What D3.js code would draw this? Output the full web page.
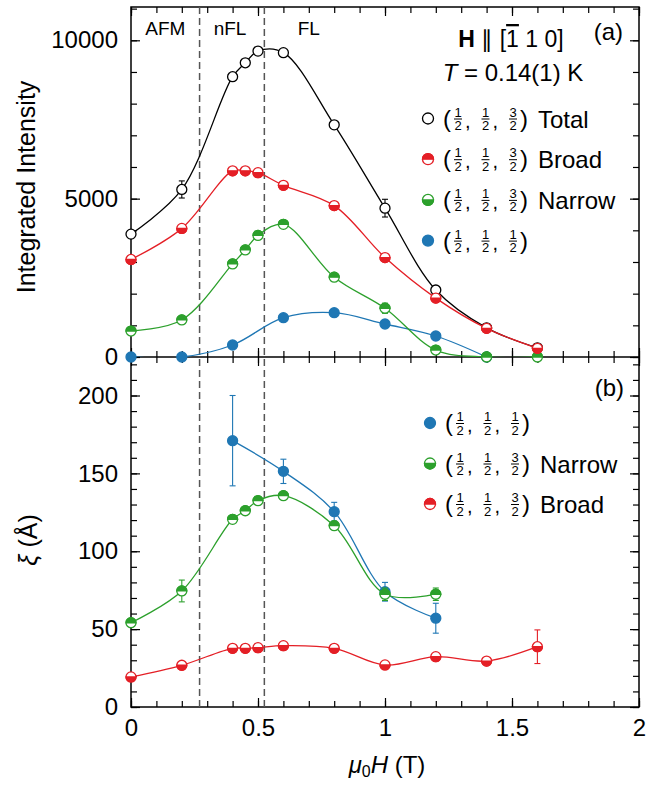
<!DOCTYPE html>
<html lang="en">
<head>
<meta charset="UTF-8">
<title>Integrated intensity and correlation length vs field</title>
<script src="https://cdnjs.cloudflare.com/ajax/libs/d3/7.8.5/d3.min.js"></script>
<style>
  body { margin: 0; background: #fff; }
  svg { display: block; }
  text { font-family: "Liberation Sans", Arial, Helvetica, sans-serif; fill: #000; }
</style>
</head>
<body>
<script>
  // field values (T)
  const fieldAll = [0, 0.2, 0.4, 0.45, 0.5, 0.6, 0.8, 1.0, 1.2, 1.4, 1.6];
  const fieldHalfTop = [0, 0.2, 0.4, 0.6, 0.8, 1.0, 1.2, 1.4];
  const fieldNarrowXi = [0, 0.2, 0.4, 0.45, 0.5, 0.6, 0.8, 1.0, 1.2];
  const fieldHalfXi = [0.4, 0.6, 0.8, 1.0, 1.2];

  // (a) integrated intensity
  const totalI = [3880, 5290, 8850, 9290, 9660, 9610, 7330, 4700, 2115, 920, 290];
  const totalErr = [60, 270, 80, 80, 80, 80, 90, 280, 90, 50, 40];
  const broadI = [3080, 4060, 5880, 5880, 5820, 5420, 4780, 3140, 1860, 905, 275];
  const broadErr = [60, 70, 70, 70, 70, 70, 80, 90, 70, 50, 40];
  const narrowI = [820, 1170, 2940, 3380, 3840, 4190, 2520, 1540, 220, 0, 0];
  const narrowErr = [50, 60, 70, 70, 70, 70, 80, 160, 60, 20, 20];
  const halfI = [0, 0, 379, 1241, 1399, 1042, 663, 0];
  const halfErr = [20, 20, 40, 60, 60, 60, 60, 20];

  // (b) correlation length (Angstrom)
  const xiHalf = [171.0, 151.3, 125.4, 74.0, 57.0];
  const xiHalfErr = [29, 7.8, 6, 6, 9.6];
  const xiNarrow = [54.1, 74.5, 120.5, 126.0, 132.5, 135.7, 116.4, 72.4, 72.4];
  const xiNarrowErr = [1.5, 7, 1.5, 1.5, 1.5, 1.5, 1.5, 4, 4];
  const xiBroad = [19.3, 26.8, 37.7, 37.7, 38.1, 39.4, 37.7, 27.0, 32.3, 29.5, 38.7];
  const xiBroadErr = [1, 1, 1, 1, 1, 1, 1, 1, 1, 1, 10.8];

  // phase boundaries and labels
  const phaseBounds = [0.27, 0.525];
  const phaseNames = ["AFM", "nFL", "FL"];
  const phaseLabelX = [0.135, 0.39, 0.7];

  const xTicksMajor = [0, 0.5, 1, 1.5, 2];
  const yTopMajor = [0, 5000, 10000];
  const yBotMajor = [0, 50, 100, 150, 200];

  const red = "#e41f26", green = "#2ca02c", blue = "#1f77b4";

  const W = 668, H = 785;
  const left = 131, right = 639, topA = 7, mid = 357, bottom = 707;

  const svg = d3.select("body").append("svg").attr("width", W).attr("height", H);

  const x = d3.scaleLinear().domain([0, 2]).range([left, right]);
  const yT = d3.scaleLinear().domain([0, 10000]).range([mid, 40.3]);
  const yB = d3.scaleLinear().domain([0, 200]).range([bottom, 395.5]);

  svg.append("clipPath").attr("id", "clipA")
    .append("rect").attr("x", left).attr("y", topA).attr("width", right - left).attr("height", mid - topA);

  // ticks
  function addAxis(axis, tx, ty, labels) {
    const g = svg.append("g").attr("transform", `translate(${tx},${ty})`).call(axis);
    g.select(".domain").remove();
    g.selectAll("line").attr("stroke", "#000").attr("stroke-width", 1.2);
    if (!labels) g.selectAll("text").remove();
    else g.selectAll("text").attr("font-size", 24).attr("font-family", "Liberation Sans, Arial, sans-serif");
    return g;
  }
  const xMinor = d3.range(0, 2.001, 0.1).map(d => +d.toFixed(2));
  const yTopMinor = d3.range(0, 11001, 1000);
  const yBotMinor = d3.range(0, 221, 10);

  // x axes
  addAxis(d3.axisBottom(x).tickValues(xMinor).tickSize(-6), 0, bottom, false);
  addAxis(d3.axisBottom(x).tickValues(xTicksMajor).tickSize(-9).tickPadding(12).tickFormat(d3.format("")), 0, bottom, true);
  addAxis(d3.axisTop(x).tickValues(xMinor).tickSize(-6), 0, mid, false);
  addAxis(d3.axisTop(x).tickValues(xTicksMajor).tickSize(-9), 0, mid, false);
  addAxis(d3.axisBottom(x).tickValues(xMinor).tickSize(-6), 0, mid, false);
  addAxis(d3.axisBottom(x).tickValues(xTicksMajor).tickSize(-9), 0, mid, false);
  addAxis(d3.axisTop(x).tickValues(xMinor).tickSize(-6), 0, topA, false);
  addAxis(d3.axisTop(x).tickValues(xTicksMajor).tickSize(-9), 0, topA, false);

  // y axes (a)
  addAxis(d3.axisLeft(yT).tickValues(yTopMinor).tickSize(-6), left, 0, false);
  addAxis(d3.axisLeft(yT).tickValues(yTopMajor).tickSize(-9).tickPadding(13).tickFormat(d3.format("d")), left, 0, true);
  addAxis(d3.axisRight(yT).tickValues(yTopMinor).tickSize(-6), right, 0, false);
  addAxis(d3.axisRight(yT).tickValues(yTopMajor).tickSize(-9), right, 0, false);
  // y axes (b)
  addAxis(d3.axisLeft(yB).tickValues(yBotMinor).tickSize(-6), left, 0, false);
  addAxis(d3.axisLeft(yB).tickValues(yBotMajor).tickSize(-9).tickPadding(13).tickFormat(d3.format("d")), left, 0, true);
  addAxis(d3.axisRight(yB).tickValues(yBotMinor).tickSize(-6), right, 0, false);
  addAxis(d3.axisRight(yB).tickValues(yBotMajor).tickSize(-9), right, 0, false);

  // frame
  svg.append("rect").attr("x", left).attr("y", topA).attr("width", right - left).attr("height", bottom - topA)
    .attr("fill", "none").attr("stroke", "#000").attr("stroke-width", 1.5);
  svg.append("line").attr("x1", left).attr("x2", right).attr("y1", mid).attr("y2", mid)
    .attr("stroke", "#000").attr("stroke-width", 1.5);

  // phase boundaries
  svg.selectAll(".phase").data(phaseBounds).enter().append("line")
    .attr("x1", d => x(d)).attr("x2", d => x(d)).attr("y1", topA).attr("y2", bottom)
    .attr("stroke", "#555").attr("stroke-width", 1.5).attr("stroke-dasharray", "7,4");
  svg.selectAll(".phaseName").data(phaseNames).enter().append("text")
    .attr("x", (d, i) => x(phaseLabelX[i])).attr("y", 35)
    .attr("text-anchor", "middle").attr("font-size", 19).text(d => d);

  // markers
  function marker(g, cx, cy, kind, color, r) {
    r = r || 5;
    const m = g.append("g").attr("transform", `translate(${cx},${cy})`);
    m.append("circle").attr("r", r)
      .attr("fill", kind === "full" ? color : "#fff")
      .attr("stroke", color).attr("stroke-width", 1.3);
    if (kind === "top" || kind === "bottom") {
      const sweep = kind === "top" ? 1 : 0;
      m.append("path").attr("d", `M${-r},0A${r},${r} 0 0 ${sweep} ${r},0Z`)
        .attr("fill", color).attr("stroke", color).attr("stroke-width", 1.3);
    }
  }

  function series(ys, xs, vs, es, color, kind, clip) {
    const pts = xs.map((f, i) => [f, vs[i], es[i]]);
    const line = d3.line().x(d => x(d[0])).y(d => ys(d[1])).curve(d3.curveCatmullRom.alpha(0.5));
    const g = svg.append("g");
    g.append("path").attr("d", line(pts)).attr("fill", "none").attr("stroke", color)
      .attr("stroke-width", 1.3).attr("clip-path", clip ? "url(#clipA)" : null);
    pts.forEach(d => {
      const px = x(d[0]);
      g.append("line").attr("x1", px).attr("x2", px).attr("y1", ys(d[1] - d[2])).attr("y2", ys(d[1] + d[2]))
        .attr("stroke", color).attr("stroke-width", 1.1);
      [d[1] - d[2], d[1] + d[2]].forEach(v => {
        g.append("line").attr("x1", px - 3).attr("x2", px + 3).attr("y1", ys(v)).attr("y2", ys(v))
          .attr("stroke", color).attr("stroke-width", 1.1);
      });
    });
    pts.forEach(d => marker(g, x(d[0]), ys(d[1]), kind, color));
  }

  // (a)
  series(yT, fieldAll, totalI, totalErr, "#000", "open", true);
  series(yT, fieldHalfTop, halfI, halfErr, blue, "full", true);
  series(yT, fieldAll, narrowI, narrowErr, green, "top", true);
  series(yT, fieldAll, broadI, broadErr, red, "bottom", true);

  // (b)
  series(yB, fieldHalfXi, xiHalf, xiHalfErr, blue, "full", false);
  series(yB, fieldNarrowXi, xiNarrow, xiNarrowErr, green, "top", false);
  series(yB, fieldAll, xiBroad, xiBroadErr, red, "bottom", false);

  // legends
  function legendRow(x0, cy, kind, color, fracs, label) {
    const g = svg.append("g");
    marker(g, x0, cy, kind, color, 5.5);
    g.append("text").attr("x", x0 + 15).attr("y", cy + 8).attr("font-size", 24).text("(");
    fracs.forEach((f, i) => {
      const cx = x0 + 30 + i * 27.5;
      g.append("text").attr("x", cx).attr("y", cy - 2).attr("text-anchor", "middle").attr("font-size", 13).text(f[0]);
      g.append("line").attr("x1", cx - 4).attr("x2", cx + 4).attr("y1", cy + 0.5).attr("y2", cy + 0.5)
        .attr("stroke", "#000").attr("stroke-width", 1);
      g.append("text").attr("x", cx).attr("y", cy + 11.5).attr("text-anchor", "middle").attr("font-size", 13).text(f[1]);
      if (i < fracs.length - 1)
        g.append("text").attr("x", cx + 7).attr("y", cy + 9).attr("font-size", 20).text(",");
    });
    g.append("text").attr("x", x0 + 92).attr("y", cy + 8).attr("font-size", 24).text(")");
    if (label) g.append("text").attr("x", x0 + 110).attr("y", cy + 9).attr("font-size", 24).text(label);
  }
  const q32 = [["1", "2"], ["1", "2"], ["3", "2"]];
  const q12 = [["1", "2"], ["1", "2"], ["1", "2"]];

  legendRow(428, 118.5, "open", "#000", q32, "Total");
  legendRow(428, 159.2, "top", red, q32, "Broad");
  legendRow(428, 199.9, "bottom", green, q32, "Narrow");
  legendRow(428, 240.6, "full", blue, q12, "");

  legendRow(430, 423, "full", blue, q12, "");
  legendRow(430, 463.5, "bottom", green, q32, "Narrow");
  legendRow(430, 504, "top", red, q32, "Broad");

  // annotations
  const hdr = svg.append("text").attr("x", 511).attr("y", 47).attr("text-anchor", "middle").attr("font-size", 23);
  hdr.append("tspan").attr("font-weight", "bold").text("H");
  hdr.append("tspan").text(" \u2225 [");
  hdr.append("tspan").attr("text-decoration", "overline").text("1");
  hdr.append("tspan").text(" 1 0]");

  const temp = svg.append("text").attr("x", 513).attr("y", 81).attr("text-anchor", "middle").attr("font-size", 24);
  temp.append("tspan").attr("font-style", "italic").text("T");
  temp.append("tspan").text(" = 0.14(1) K");

  svg.append("text").attr("x", 623).attr("y", 40).attr("text-anchor", "end").attr("font-size", 24).text("(a)");
  svg.append("text").attr("x", 624).attr("y", 396).attr("text-anchor", "end").attr("font-size", 24).text("(b)");

  // axis titles
  svg.append("text").attr("transform", `translate(35,187) rotate(-90)`).attr("text-anchor", "middle")
    .attr("font-size", 25).text("Integrated Intensity");
  const xiLab = svg.append("text").attr("transform", `translate(37,540) rotate(-90)`).attr("text-anchor", "middle")
    .attr("font-size", 25);
  xiLab.append("tspan").attr("font-style", "italic").text("\u03be");
  xiLab.append("tspan").text(" (\u00c5)");

  const xLab = svg.append("text").attr("x", 387).attr("y", 773).attr("text-anchor", "middle").attr("font-size", 24);
  xLab.append("tspan").attr("font-style", "italic").text("\u03bc");
  xLab.append("tspan").attr("font-size", 16).attr("dy", 4).text("0");
  xLab.append("tspan").attr("font-style", "italic").attr("dy", -4).text("H");
  xLab.append("tspan").text(" (T)");
</script>
</body>
</html>
